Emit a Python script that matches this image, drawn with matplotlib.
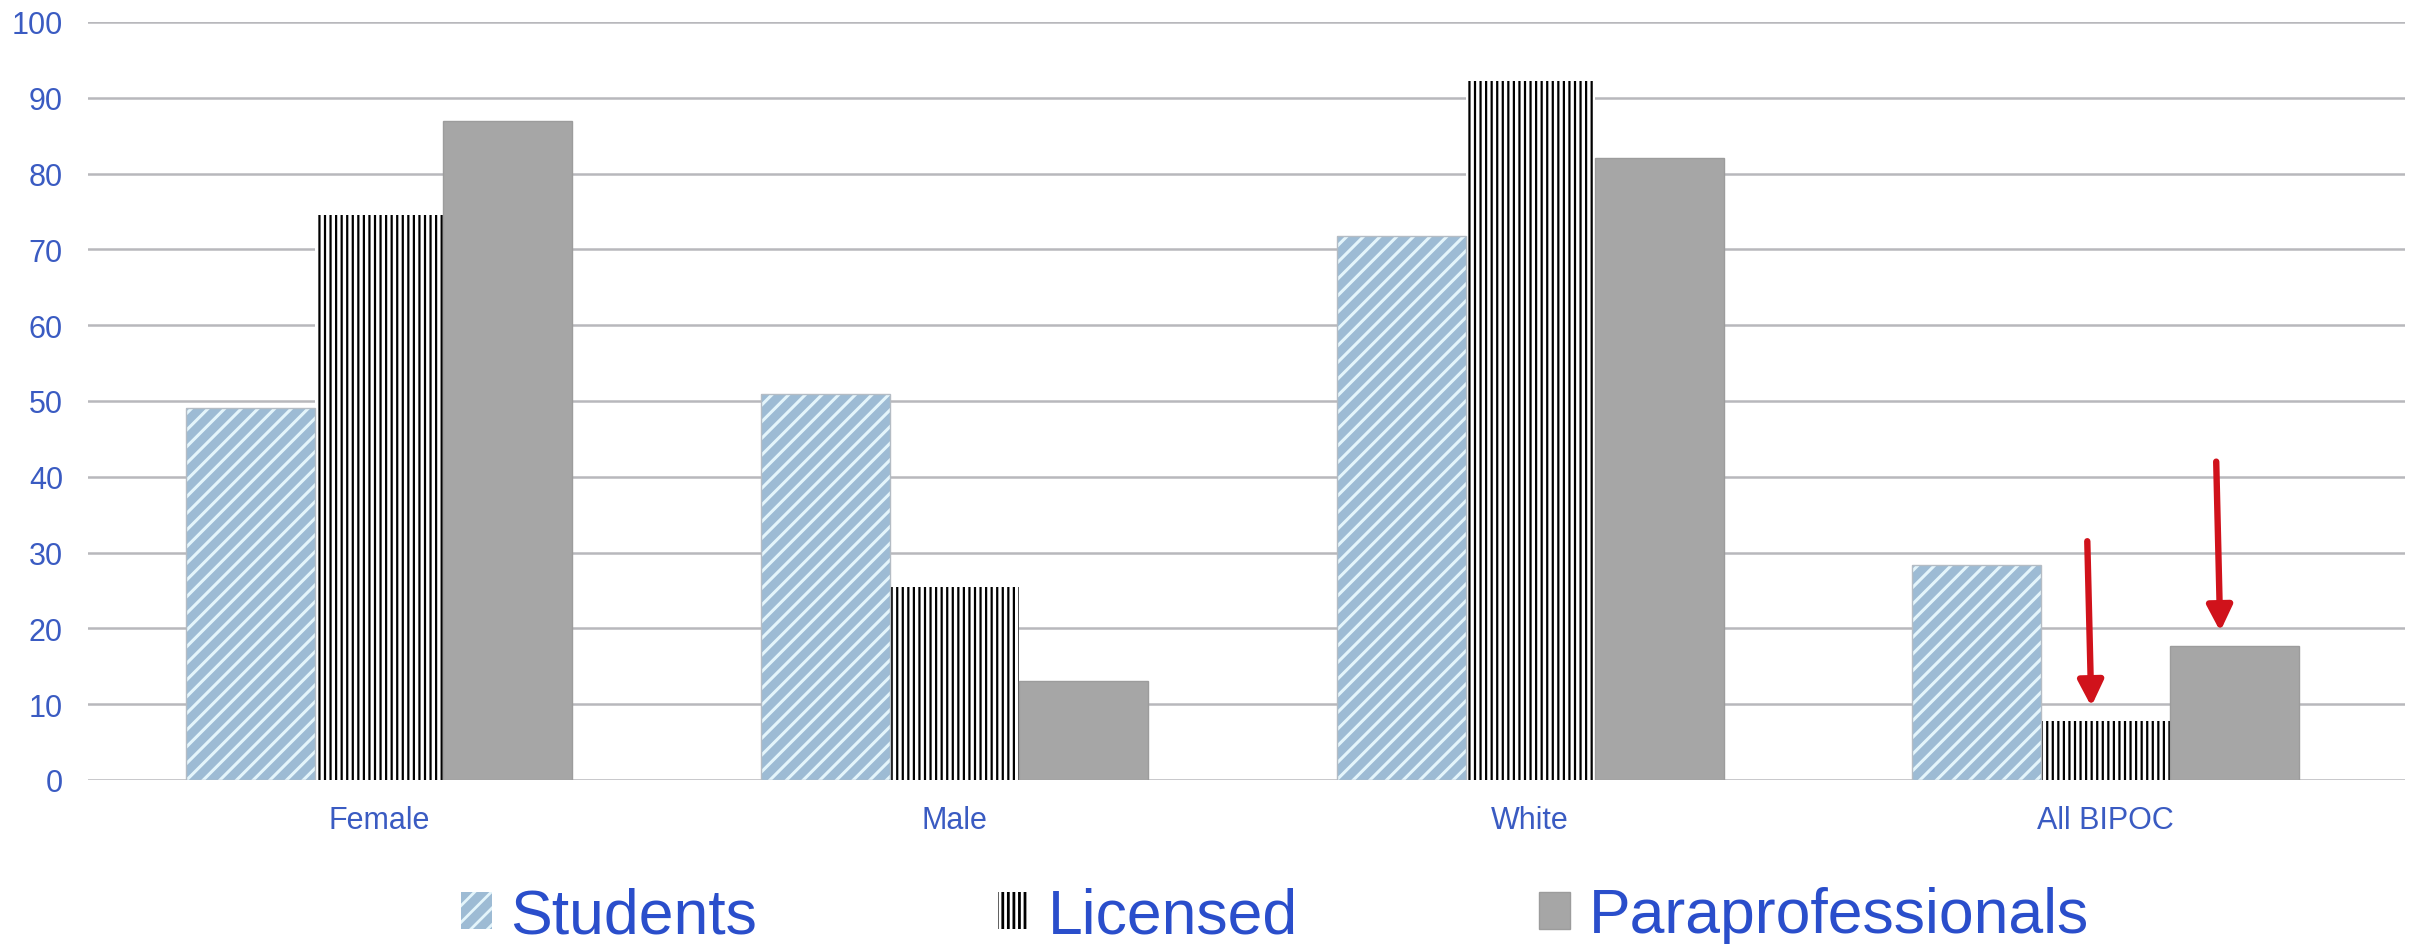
import numpy as np
import matplotlib
matplotlib.use('Agg')
from matplotlib import pyplot as plt

plt.rcParams['font.family'] = ['Liberation Sans', 'DejaVu Sans']

groups = ['Female', 'Male', 'White', 'All BIPOC']
series = ['Students', 'Licensed', 'Paraprofessionals']
students = [49.1, 50.9, 71.8, 28.3]
licensed = [74.5, 25.4, 92.2, 7.8]
paraprof = [87.0, 13.0, 82.1, 17.7]

# red arrows over the BIPOC licensed / para bars (start value, series index)
arrow_from = [31.5, 42.0]
arrow_series = [1, 2]

yticks = [y for y in range(0, 101, 10)]

tick_blue = '#3a5bc2'
legend_blue = '#2a4ecb'

fig = plt.figure(figsize=(12.05, 4.725), dpi=200)
ax = fig.add_axes([88/2410, 1-781/945, (2405-88)/2410, (781-23)/945])

x = np.arange(len(groups))
w = 0.224

styles = [
    dict(color='#9dbbd4', edgecolor='#e4f5fb', hatch='////', lw=0, hlw=1.1),
    dict(color='white', edgecolor='black', hatch='||||||', lw=0, hlw=0.8),
    dict(color='#a6a6a6', edgecolor='#9c9c9c', hatch=None, lw=0.5, hlw=1.0),
]

handles = []
for i, vals in enumerate([students, licensed, paraprof]):
    st = styles[i]
    plt.rcParams['hatch.linewidth'] = st['hlw']
    bars = ax.bar(x + (i - 1) * w, vals, width=w, color=st['color'],
                  edgecolor=st['edgecolor'], hatch=st['hatch'],
                  linewidth=st['lw'], label=series[i], zorder=3)
    for b in bars:
        if hasattr(b, 'set_hatch_linewidth'):
            b.set_hatch_linewidth(st['hlw'])
    handles.append(bars)

# faint outline round the student bars
ax.bar(x - w, students, width=w, fill=False, edgecolor='#b4bcc4',
       linewidth=0.5, zorder=4)

# arrows
bipoc = len(groups) - 1
all_vals = [students, licensed, paraprof]
for start, s in zip(arrow_from, arrow_series):
    xc = bipoc + (s - 1) * w
    tip = all_vals[s][bipoc] + 1.9
    ax.annotate('', xy=(xc - 0.025, tip), xytext=(xc - 0.032, start),
                arrowprops=dict(arrowstyle='-|>', color='#d0121b', lw=2.3,
                                mutation_scale=19, shrinkA=0, shrinkB=0),
                zorder=6)

ax.set_xlim(-0.5056, 3.52)
ax.set_ylim(0, 100)
ax.set_yticks(yticks)
ax.set_xticks(x)
ax.set_xticklabels(groups)
ax.yaxis.grid(True, color='#b8b8bc', linewidth=0.9, zorder=0)
ax.set_axisbelow(True)
for sp in ax.spines.values():
    sp.set_visible(False)
ax.tick_params(axis='both', length=0, labelsize=11, labelcolor=tick_blue)
ax.tick_params(axis='y', pad=9)
ax.tick_params(axis='x', pad=9)

leg = fig.legend(handles=handles, labels=series, loc='center',
                 bbox_to_anchor=(0.529, 1 - 917/945), ncol=3, frameon=False,
                 fontsize=22.5, handlelength=0.5, handleheight=0.55,
                 handletextpad=0.3, columnspacing=3.85)
for t in leg.get_texts():
    t.set_color(legend_blue)

plt.savefig('out.png', dpi=200)
